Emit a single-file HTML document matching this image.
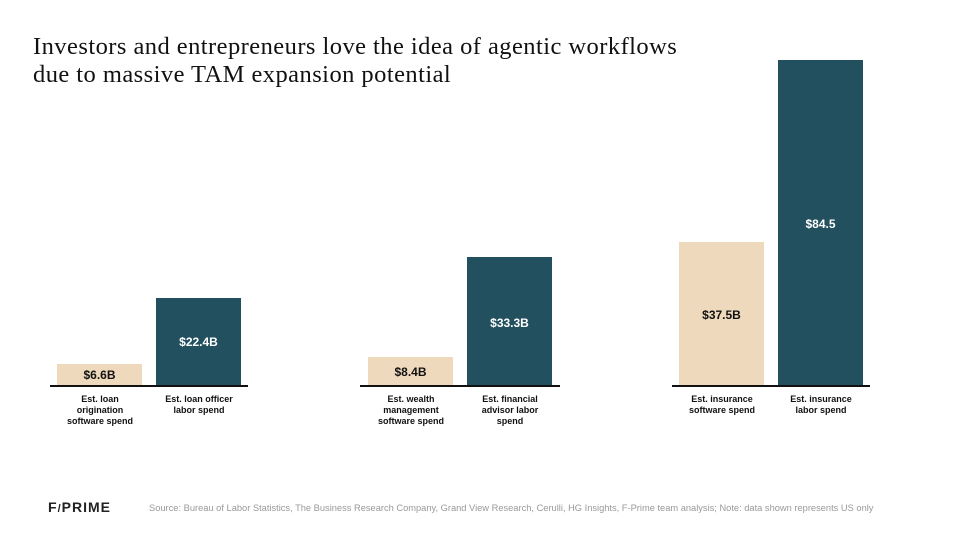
<!DOCTYPE html>
<html><head><style>
body{margin:0;width:954px;height:536px;background:#fff;position:relative;overflow:hidden;font-family:"Liberation Sans",sans-serif}
.t{position:absolute;left:33px;top:33px;font-family:"Liberation Serif",serif;font-size:24.5px;letter-spacing:0.45px;line-height:28px;color:#111}
.b{position:absolute;width:85px}
.l{background:#efd9bc}.d{background:#22505f}
.v{position:absolute;width:85px;text-align:center;font-weight:bold;font-size:12px}
.ax{position:absolute;height:2px;background:#111;top:385px}
.c{position:absolute;top:394px;width:100px;text-align:center;font-weight:bold;font-size:9px;line-height:11px;color:#111}
</style></head><body>
<div class="t">Investors and entrepreneurs love the idea of agentic workflows<br>due to massive TAM expansion potential</div>

<div class="b l" style="left:57px;top:364px;height:22px"></div>
<div class="b d" style="left:156px;top:298px;height:88px"></div>
<div class="b l" style="left:368px;top:357px;height:29px"></div>
<div class="b d" style="left:467px;top:257px;height:129px"></div>
<div class="b l" style="left:679px;top:242px;height:144px"></div>
<div class="b d" style="left:778px;top:60px;height:326px"></div>

<div class="v" style="left:57px;top:368px;color:#111">$6.6B</div>
<div class="v" style="left:156px;top:335px;color:#fff">$22.4B</div>
<div class="v" style="left:368px;top:365px;color:#111">$8.4B</div>
<div class="v" style="left:467px;top:316px;color:#fff">$33.3B</div>
<div class="v" style="left:679px;top:308px;color:#111">$37.5B</div>
<div class="v" style="left:778px;top:217px;color:#fff">$84.5</div>

<div class="ax" style="left:50px;width:198px"></div>
<div class="ax" style="left:360px;width:200px"></div>
<div class="ax" style="left:672px;width:198px"></div>

<div class="c" style="left:50px">Est. loan<br>origination<br>software spend</div>
<div class="c" style="left:149px">Est. loan officer<br>labor spend</div>
<div class="c" style="left:361px">Est. wealth<br>management<br>software spend</div>
<div class="c" style="left:460px">Est. financial<br>advisor labor<br>spend</div>
<div class="c" style="left:672px">Est. insurance<br>software spend</div>
<div class="c" style="left:771px">Est. insurance<br>labor spend</div>

<div style="position:absolute;left:48px;top:499px;font-weight:bold;font-size:14px;letter-spacing:1px;color:#222">F<span style="font-size:11px">/</span>PRIME</div>
<div style="position:absolute;left:149px;top:503px;font-size:9.3px;color:#999">Source: Bureau of Labor Statistics, The Business Research Company, Grand View Research, Cerulli, HG Insights, F-Prime team analysis; Note: data shown represents US only</div>
</body></html>
